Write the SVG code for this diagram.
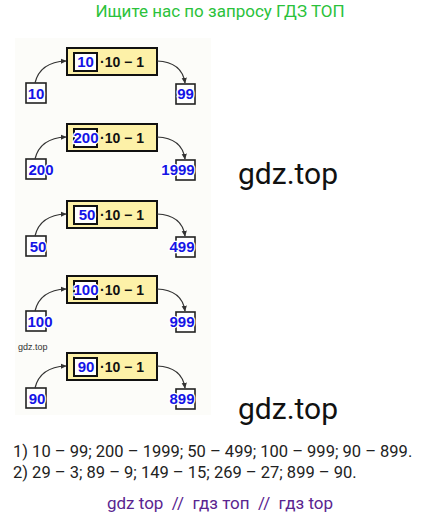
<svg xmlns="http://www.w3.org/2000/svg" width="442" height="519" viewBox="0 0 442 519">
<defs>
<marker id="ah" viewBox="0 0 8 8" refX="7" refY="4" markerWidth="6" markerHeight="6" orient="auto" markerUnits="userSpaceOnUse">
<path d="M0,0.5 L8,4 L0,7.5 Z" fill="#333"/>
</marker>
<style>
.yb{fill:#fdf1a8;stroke:#111;stroke-width:2}
.ib{fill:#fff;stroke:#111;stroke-width:2}
.sb{fill:#fff;stroke:#222;stroke-width:1.6}
.num{font-family:"Liberation Sans",Arial,sans-serif;font-weight:bold;font-size:15px;fill:#1414e6;text-anchor:middle;paint-order:stroke;stroke:#fff;stroke-width:2.5px}
.op{font-family:"Liberation Sans",Arial,sans-serif;font-weight:bold;font-size:14px;fill:#111}
.con{fill:none;stroke:#333;stroke-width:1.2}
</style>
</defs>
<rect width="442" height="519" fill="#fff"/>
<text x="220" y="17" font-family="Roboto,sans-serif" font-size="17" fill="#2bc23b" text-anchor="middle">Ищите нас по запросу ГДЗ ТОП</text>
<rect x="15" y="38" width="196" height="377" fill="#fcfcf9"/>

<g id="row1">
<g id="n1a"><rect class="sb" x="26" y="83" width="20" height="20"/><text class="num" x="36" y="98.5">10</text></g>
<g id="n1b"><rect class="yb" x="67" y="48" width="90" height="27"/><rect class="ib" x="74" y="53" width="23" height="18"/><text class="num" x="85.5" y="67">10</text><text class="op" x="100" y="67">·10 − 1</text></g>
<g id="n1c"><rect class="sb" x="176" y="84" width="19" height="20"/><text class="num" x="185.5" y="99">99</text></g>
</g>

<g id="row2" transform="translate(0,76)">
<g id="n2a"><rect class="sb" x="26" y="83" width="20" height="20"/><text class="num" x="41" y="98.5">200</text></g>
<g id="n2b"><rect class="yb" x="67" y="48" width="90" height="27"/><rect class="ib" x="74" y="53" width="23" height="18"/><text class="num" x="86" y="67">200</text><text class="op" x="100" y="67">·10 − 1</text></g>
<g id="n2c"><rect class="sb" x="176" y="84" width="19" height="20"/><text class="num" x="178" y="99">1999</text></g>
</g>

<g id="row3" transform="translate(0,153)">
<g id="n3a"><rect class="sb" x="26" y="83" width="20" height="20"/><text class="num" x="38" y="98.5">50</text></g>
<g id="n3b"><rect class="yb" x="67" y="48" width="90" height="27"/><rect class="ib" x="74" y="53" width="23" height="18"/><text class="num" x="87" y="67">50</text><text class="op" x="100" y="67">·10 − 1</text></g>
<g id="n3c"><rect class="sb" x="176" y="84" width="19" height="20"/><text class="num" x="182" y="99">499</text></g>
</g>

<g id="row4" transform="translate(0,228)">
<g id="n4a"><rect class="sb" x="26" y="83" width="20" height="20"/><text class="num" x="40" y="98.5">100</text></g>
<g id="n4b"><rect class="yb" x="67" y="48" width="90" height="27"/><rect class="ib" x="74" y="53" width="23" height="18"/><text class="num" x="86" y="67">100</text><text class="op" x="100" y="67">·10 − 1</text></g>
<g id="n4c"><rect class="sb" x="176" y="84" width="19" height="20"/><text class="num" x="182" y="99">999</text></g>
</g>

<g id="row5" transform="translate(0,305)">
<g id="n5a"><rect class="sb" x="26" y="83" width="20" height="20"/><text class="num" x="37" y="98.5">90</text></g>
<g id="n5b"><rect class="yb" x="67" y="48" width="90" height="27"/><rect class="ib" x="74" y="53" width="23" height="18"/><text class="num" x="86" y="67">90</text><text class="op" x="100" y="67">·10 − 1</text></g>
<g id="n5c"><rect class="sb" x="176" y="84" width="19" height="20"/><text class="num" x="182" y="99">899</text></g>
</g>

<g id="connectors">
<path class="con" d="M35,83 Q40,62 66,61" marker-end="url(#ah)"/>
<path class="con" d="M157,61 Q182,62 185,83" marker-end="url(#ah)"/>
<path class="con" d="M35,159 Q40,138 66,137" marker-end="url(#ah)"/>
<path class="con" d="M157,137 Q182,138 185,159" marker-end="url(#ah)"/>
<path class="con" d="M35,236 Q40,215 66,214" marker-end="url(#ah)"/>
<path class="con" d="M157,214 Q182,215 185,236" marker-end="url(#ah)"/>
<path class="con" d="M35,311 Q40,290 66,289" marker-end="url(#ah)"/>
<path class="con" d="M157,289 Q182,290 185,311" marker-end="url(#ah)"/>
<path class="con" d="M35,388 Q40,367 66,366" marker-end="url(#ah)"/>
<path class="con" d="M157,366 Q182,367 185,388" marker-end="url(#ah)"/>
</g>

<text x="18" y="350" font-family="Liberation Sans,Arial,sans-serif" font-size="9" fill="#333">gdz.top</text>
<text x="238" y="184" font-family="Roboto,sans-serif" font-size="30" fill="#111">gdz.top</text>
<text x="238" y="419" font-family="Roboto,sans-serif" font-size="30" fill="#111">gdz.top</text>

<text x="13" y="457" font-family="Roboto,sans-serif" font-size="16.5" fill="#222">1) 10 – 99; 200 – 1999; 50 – 499; 100 – 999; 90 – 899.</text>
<text x="13" y="478" font-family="Roboto,sans-serif" font-size="16.5" fill="#222">2) 29 – 3; 89 – 9; 149 – 15; 269 – 27; 899 – 90.</text>
<text x="220" y="509" font-family="Roboto,sans-serif" font-size="17" fill="#5a2590" text-anchor="middle" xml:space="preserve">gdz top  //  гдз топ  //  гдз top</text>
</svg>
